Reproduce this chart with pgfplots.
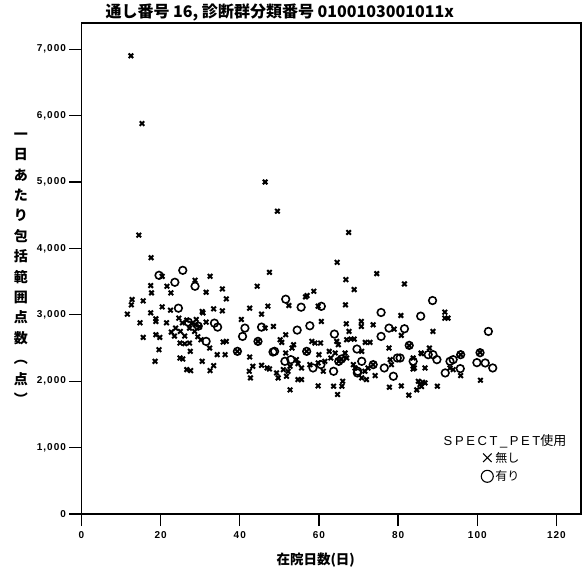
\documentclass[border=0pt]{standalone}
\usepackage{fontspec}
\setmainfont{Liberation Sans}
\newfontfamily\cjk{Noto Sans CJK JP}
\usepackage{pgfplots}
\pgfplotsset{compat=1.18}

\begin{document}
\begin{tikzpicture}
\begin{axis}[
  scale only axis, width=499.5pt, height=491pt,
  xmin=0, xmax=126.2, ymin=0, ymax=7394,
  xtick={0,20,...,120}, ytick={0,1000,...,7000},
  tick align=outside, xtick pos=bottom, ytick pos=left,
  major tick length=12pt,
  axis line style={line width=1.3pt},
  every tick/.style={line width=1.3pt, black},
  /pgf/number format/assume math mode=true,
  /pgf/number format/1000 sep={,},
  scaled y ticks=false,
  ticklabel style={font=\bfseries\fontsize{10}{12}\selectfont\addfontfeature{LetterSpace=10}},
  xticklabel style={yshift=-1.5pt},
  clip=false,
  legend cell align=left,
  legend style={draw=none, fill=none, at={(rel axis cs:0.80,0.131)}, anchor=north west,
    inner sep=0pt, row sep=3pt, font=\cjk\fontsize{12}{14}\selectfont},
  legend image code/.code={\draw[#1, mark size=6pt, mark options={line width=1.1pt}] plot coordinates {(0.3cm,0cm)};},
]
% 無し
\addplot[only marks, mark=x, mark size=3.2pt, mark options={line width=2pt}, black] coordinates {
(12.5,6900) (15.3,5880) (14.5,4200) (17.6,3860) (46.4,5000) (49.5,4560) (67.5,4240) (64.6,3790)
(47.5,3640) (74.6,3620) (81.6,3465) (66.8,3530) (68.9,3380) (44.4,3430) (32.5,3580) (20.4,3580)
(28.7,3520) (17.5,3440) (17.7,3330) (21.6,3430) (22.6,3330) (31.5,3340) (35.6,3390) (36.6,3240)
(12.8,3230) (12.6,3150) (15.6,3210) (11.6,3010) (17.5,3030) (20.4,3120) (22.5,3070) (30.5,3050)
(33.4,3090) (35.6,3060) (14.8,2880) (18.8,2940) (18.8,2900) (24.6,2950) (26.6,2920) (28.8,2850)
(30.7,3030) (31.5,2890) (15.6,2660) (18.8,2700) (19.8,2660) (22.7,2740) (23.5,2680) (25.0,2750)
(26.1,2680) (27.3,2800) (28.6,2750) (29.4,2670) (29.8,2820) (24.9,2575) (26.1,2565) (27.3,2575)
(30.2,2625) (32.4,2500) (35.8,2590) (36.6,2600) (19.6,2475) (24.9,2350) (25.6,2335) (27.5,2450)
(34.3,2400) (36.3,2400) (18.6,2300) (30.5,2300) (33.4,2235) (26.6,2175) (27.6,2160) (32.5,2160)
(25.5,2880) (27.8,2870) (29.0,2930) (23.8,2800) (21.5,2880)
(40.4,2930) (42.5,3100) (45.5,3010) (47.1,3130) (42.5,2365) (43.3,2225) (45.5,2240) (46.9,2200)
(42.4,2150) (42.7,2050) (39.4,2450) (44.6,2600)
(52.4,3140) (56.6,3270) (57.0,3290) (58.7,3355) (59.8,3130) (66.7,3150) (80.7,2990) (91.8,3040)
(92.6,2950) (91.8,2950) (60.6,2900) (66.9,2865) (70.7,2900) (70.7,2825) (73.7,2850) (79.0,2785)
(80.8,2690) (48.5,2825) (46.4,2800) (67.6,2750) (68.1,2635) (67.0,2625) (68.9,2635) (71.7,2585)
(72.9,2585) (77.7,2500) (51.6,2700) (50.6,2585) (50.2,2625) (53.6,2550) (53.2,2500) (58.2,2600)
(59.0,2575) (60.4,2575) (62.6,2450) (64.5,2600) (64.9,2550) (70.8,2450) (51.6,2425) (52.7,2225)
(54.3,2325) (54.7,2265) (55.6,2200) (57.7,2250) (59.8,2275) (61.5,2300) (61.1,2150) (65.0,2300)
(65.7,2335) (68.7,2250) (69.1,2200) (73.7,2250) (78.0,2325) (78.3,2250) (83.8,2350) (84.1,2200)
(85.9,2415) (47.5,2185) (49.7,2050) (49.3,2125) (51.0,2175) (52.2,2150) (51.8,2075) (54.7,2025)
(55.6,2025) (52.7,1870) (59.8,1930) (63.7,1925) (65.8,1925) (66.0,2000) (64.7,1800) (77.8,1910)
(80.8,1930) (82.7,1790) (84.7,1870) (85.5,1950) (86.2,1985) (85.9,1920) (88.8,2750) (87.9,2500)
(85.8,2425) (83.8,2225) (83.8,2185) (86.8,2200) (93.1,2200) (93.9,2175) (95.8,2085) (100.8,2015)
(89.9,1925) (85.1,2000) (86.8,1975) (82.8,2535) (100.7,2435) (95.8,2400) (72.4,2200) (71.6,2150)
(70.8,2050) (72.0,2025) (74.2,2085) (64.1,2425) (66.6,2425) (67.0,2350) (56.9,2450) (63.0,2350)
(60.0,2400)
};
\addlegendentry{無し}
% 有り
\addplot[only marks, mark=o, mark size=3.8pt, mark options={line width=1.6pt}, black] coordinates {
(19.6,3595) (25.6,3670) (23.6,3490) (28.7,3430) (24.5,3100) (27.0,2890) (29.5,2830) (33.6,2875)
(34.4,2815) (31.5,2600) (41.3,2800) (40.7,2675) (45.5,2815) (44.6,2600) (39.4,2450) (51.6,3235)
(55.5,3115) (60.6,3128) (75.7,3035) (85.7,2980) (88.7,3215) (102.8,2750) (54.5,2770) (57.7,2835)
(63.9,2710) (77.7,2800) (81.6,2790) (75.7,2675) (48.4,2440) (56.9,2450) (69.6,2485) (82.8,2540)
(79.8,2350) (87.6,2400) (88.8,2400) (89.8,2325) (93.1,2300) (93.9,2325) (95.8,2400) (95.7,2190)
(100.7,2430) (99.9,2280) (102.0,2275) (103.9,2200) (91.9,2125) (78.8,2075) (83.8,2300) (80.5,2350)
(69.7,2125) (63.7,2150) (70.8,2300) (73.7,2250) (76.5,2200) (51.4,2300) (52.9,2325) (48.8,2450)
(65.0,2300) (65.7,2335) (69.8,2150) (60.5,2250) (58.5,2200)
};
\addlegendentry{有り}

\node[font=\cjk\bfseries\fontsize{16}{18}\selectfont] at (rel axis cs:0.397,1.0224)
  {通し番号 16, 診断群分類番号 0100103001011x};
\node[align=center, font=\cjk\bfseries\fontsize{14}{20.4}\selectfont] at (rel axis cs:-0.121,0.5)
  {一\\日\\あ\\た\\り\\包\\括\\範\\囲\\点\\数\\︵\\点\\︶};
\node[font=\cjk\bfseries\fontsize{13.5}{16}\selectfont] at (rel axis cs:0.469,-0.094) {在院日数(日)};
\node[font=\fontsize{13}{15}\selectfont\addfontfeature{LetterSpace=20}] at (rel axis cs:0.848,0.1487)
  {SPECT\_PET{\cjk 使用}};
\path (rel axis cs:-0.163,-0.116) rectangle (rel axis cs:1.004,1.0407);
\end{axis}
\end{tikzpicture}
\end{document}
